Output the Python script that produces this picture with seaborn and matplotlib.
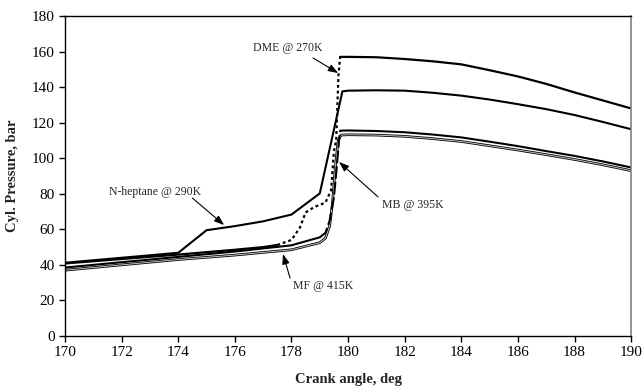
import numpy as np
import pandas as pd
import matplotlib
matplotlib.use("Agg")
import matplotlib.pyplot as plt
import matplotlib.patheffects as pe
import seaborn as sns

# ---- data ----
hep_x = [170, 172, 174, 175, 176, 177, 178, 179, 179.8, 180, 181, 182, 183, 184, 185, 186, 187, 188, 189, 190]
hep_y = [41.2, 44.0, 46.8, 59.5, 61.8, 64.5, 68.3, 80.2, 137.6, 138.0, 138.2, 138.0, 136.8, 135.2, 133.0, 130.4, 127.6, 124.3, 120.4, 116.3]

dme_x = [170, 172, 174, 176, 177, 177.5, 178, 178.3, 178.5, 178.8, 179.2, 179.4, 179.5, 179.58, 179.66, 179.72,
         180, 181, 182, 183, 184, 185, 186, 187, 188, 189, 190]
dme_y = [40.8, 43.3, 45.8, 48.5, 50.0, 51.2, 54.0, 61.0, 69.5, 72.5, 75.0, 82.0, 104.0, 110.0, 146.8, 157.0,
         157.0, 156.8, 155.8, 154.5, 152.8, 149.5, 146.0, 141.8, 137.0, 132.5, 128.0]

mb_x = [170, 172, 174, 176, 178, 179, 179.2, 179.35, 179.5, 179.6, 179.68, 179.72,
        180, 181, 182, 183, 184, 185, 186, 187, 188, 189, 190]
mb_y = [38.5, 41.5, 44.5, 47.5, 51.0, 55.5, 58.0, 65.0, 78.0, 95.0, 110.0, 115.5,
        115.6, 115.3, 114.6, 113.3, 111.7, 109.3, 106.8, 104.0, 101.3, 98.2, 94.8]

mf_x = [170, 172, 174, 176, 178, 179, 179.2, 179.35, 179.45, 179.55, 179.65, 179.75,
        180, 181, 182, 183, 184, 185, 186, 187, 188, 189, 190]
mf_y = [37.0, 40.0, 43.0, 45.5, 48.5, 52.5, 55.0, 62.0, 75.0, 95.0, 110.0, 113.0,
        113.2, 113.0, 112.3, 111.0, 109.4, 107.0, 104.6, 102.0, 99.3, 96.3, 93.0]

x_ticks = [170, 172, 174, 176, 178, 180, 182, 184, 186, 188, 190]
y_ticks = [0, 20, 40, 60, 80, 100, 120, 140, 160, 180]

labels = ["DME @ 270K", "N-heptane @ 290K", "MB @ 395K", "MF @ 415K"]

# ---- style ----
sns.set_style("ticks")
plt.rcParams['font.family'] = ['Liberation Serif', 'DejaVu Serif']

fig = plt.figure(figsize=(6.44, 3.90), dpi=100)
ax = fig.add_axes([0.101, 0.1385, 0.879, 0.8205])


def draw_split(xs, ys, i0, i1, lw, dash):
    """Solid line, except the sparse rising part (indices i0..i1) which shows the dash pattern."""
    sns.lineplot(x=xs[:i0 + 1], y=ys[:i0 + 1], ax=ax, color='black', linewidth=lw,
                 estimator=None, sort=False)
    sns.lineplot(x=xs[i0:i1 + 1], y=ys[i0:i1 + 1], ax=ax, color='black', linewidth=lw,
                 estimator=None, sort=False, linestyle=dash)
    sns.lineplot(x=xs[i1:], y=ys[i1:], ax=ax, color='black', linewidth=lw,
                 estimator=None, sort=False)


sns.lineplot(x=mf_x, y=mf_y, ax=ax, color='#c8c8c8', linewidth=0.7, estimator=None, sort=False,
             path_effects=[pe.Stroke(linewidth=1.9, foreground='black'), pe.Normal()])
draw_split(mb_x, mb_y, 5, 11, 1.5, (0, (6, 1.5)))
sns.lineplot(x=hep_x, y=hep_y, ax=ax, color='black', linewidth=1.5, estimator=None, sort=False)
draw_split(dme_x, dme_y, 5, 15, 1.6, (0, (1.3, 1.3)))

ax.set_xlim(170, 190)
ax.set_ylim(0, 180)
ax.set_xticks(x_ticks)
ax.set_yticks(y_ticks)
ax.tick_params(axis='both', direction='out', length=4, width=1, labelsize=11, colors='black')

for s in ['left', 'bottom', 'top']:
    ax.spines[s].set_color('black')
    ax.spines[s].set_linewidth(1.0)
ax.spines['right'].set_color('#808080')
ax.spines['right'].set_linewidth(1.2)

ax.set_xlabel("Crank angle, deg", fontsize=10.5, fontweight='bold', labelpad=10)
ax.set_ylabel("Cyl. Pressure, bar", fontsize=10.5, fontweight='bold', labelpad=9)

arrow = dict(arrowstyle='-|>,head_length=0.6,head_width=0.22', color='black', lw=0.8,
             shrinkA=0, shrinkB=0)
ax.annotate(labels[0], xy=(179.65, 147.9), xytext=(177.88, 162), fontsize=8.5,
            ha='center', va='center')
ax.annotate("", xy=(179.65, 147.9), xytext=(178.76, 156.4), arrowprops=arrow)
ax.annotate(labels[1], xy=(175.62, 62.4), xytext=(173.18, 81), fontsize=8.5,
            ha='center', va='center')
ax.annotate("", xy=(175.62, 62.4), xytext=(174.5, 77.6), arrowprops=arrow)
ax.annotate(labels[2], xy=(179.68, 97.9), xytext=(182.3, 73.7), fontsize=8.5,
            ha='center', va='center')
ax.annotate("", xy=(179.68, 97.9), xytext=(181.06, 78.2), arrowprops=arrow)
ax.annotate(labels[3], xy=(177.7, 46.1), xytext=(179.12, 28.1), fontsize=8.5,
            ha='center', va='center')
ax.annotate("", xy=(177.7, 46.1), xytext=(177.95, 32.6), arrowprops=arrow)

fig.savefig("out.png", dpi=100)
